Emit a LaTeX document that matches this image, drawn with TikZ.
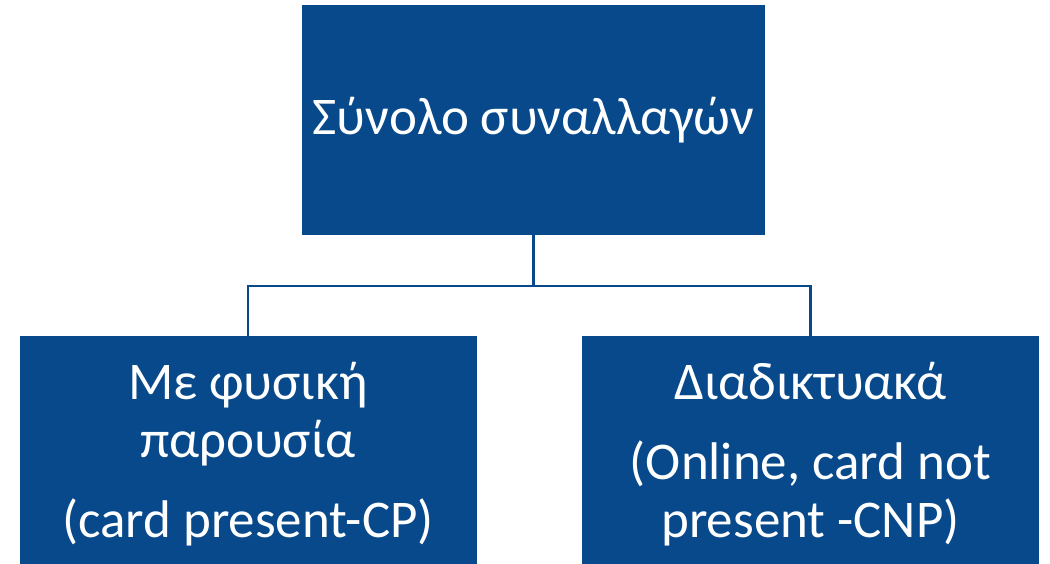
\documentclass[tikz,border=0pt]{standalone}
\usepackage{fontspec}
\setmainfont{Carlito}
\usetikzlibrary{positioning}
\definecolor{boxblue}{RGB}{7,73,139}
\begin{document}
\begin{tikzpicture}[
  x=1pt,y=-1pt,
  tb/.style={draw=none,fill=boxblue,text=white,align=center,inner sep=0pt,
    font=\fontsize{53}{58}\selectfont},
  conn/.style={draw=boxblue,line width=2.4pt}
    ]
    \useasboundingbox (0,0) rectangle (1050,563);
    \node[tb,minimum width=463,minimum height=230,anchor=north] (top) at (533.5,5) {Σύνολο συναλλαγών};
    \node[tb,minimum width=457,minimum height=236,anchor=north] (cp) at (248,336)
      {Με φυσική\\παρουσία\\[22pt](card present-CP)};
    \node[tb,minimum width=457,minimum height=236,anchor=north] (cnp) at (810.5,336)
      {Διαδικτυακά\\[22pt](Online, card not\\present -CNP)};
    \coordinate (hub) at (533.5,286);
    \draw[conn] (top.south) -- (hub);
    \draw[conn] (hub) -| (cp.north);
    \draw[conn] (hub) -| (cnp.north);
    \end{tikzpicture}
\end{document}
